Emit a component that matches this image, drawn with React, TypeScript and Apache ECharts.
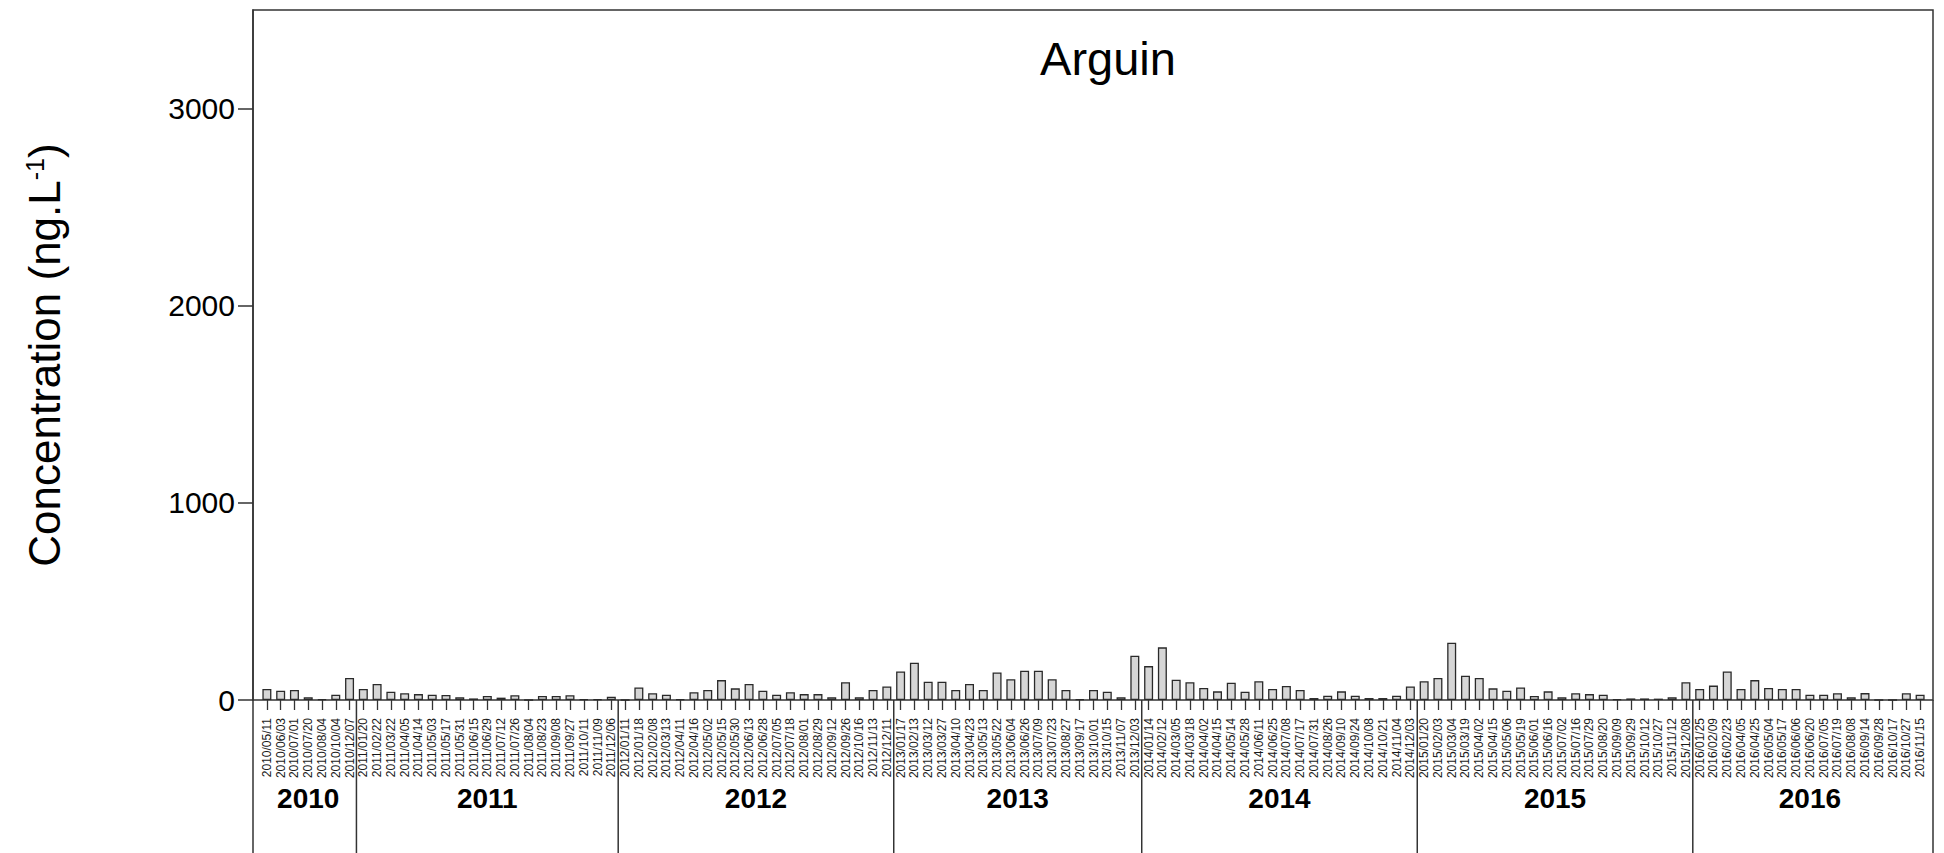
import React, { useEffect, useRef } from 'react';
import * as echarts from 'echarts';

const chartTitle = 'Arguin';
const yName = 'Concentration (ng.L{sup|-1})';
const yTicks = [0, 1000, 2000, 3000];
const yMax = 3500;

const dates2010 = ['2010/05/11','2010/06/03','2010/07/01','2010/07/20','2010/08/04','2010/10/04','2010/12/07'];
const dates2011 = ['2011/01/20','2011/02/22','2011/03/22','2011/04/05','2011/04/14','2011/05/03','2011/05/17','2011/05/31','2011/06/15','2011/06/29','2011/07/12','2011/07/26','2011/08/04','2011/08/23','2011/09/08','2011/09/27','2011/10/11','2011/11/09','2011/12/06'];
const dates2012 = ['2012/01/11','2012/01/18','2012/02/08','2012/03/13','2012/04/11','2012/04/16','2012/05/02','2012/05/15','2012/05/30','2012/06/13','2012/06/28','2012/07/05','2012/07/18','2012/08/01','2012/08/29','2012/09/12','2012/09/26','2012/10/16','2012/11/13','2012/12/11'];
const dates2013 = ['2013/01/17','2013/02/13','2013/03/12','2013/03/27','2013/04/10','2013/04/23','2013/05/13','2013/05/22','2013/06/04','2013/06/26','2013/07/09','2013/07/23','2013/08/27','2013/09/17','2013/10/01','2013/10/15','2013/11/07','2013/12/03'];
const dates2014 = ['2014/01/14','2014/02/12','2014/03/05','2014/03/18','2014/04/02','2014/04/15','2014/05/14','2014/05/28','2014/06/11','2014/06/25','2014/07/08','2014/07/17','2014/07/31','2014/08/26','2014/09/10','2014/09/24','2014/10/08','2014/10/21','2014/11/04','2014/12/03'];
const dates2015 = ['2015/01/20','2015/02/03','2015/03/04','2015/03/19','2015/04/02','2015/04/15','2015/05/06','2015/05/19','2015/06/01','2015/06/16','2015/07/02','2015/07/16','2015/07/29','2015/08/20','2015/09/09','2015/09/29','2015/10/12','2015/10/27','2015/11/12','2015/12/08'];
const dates2016 = ['2016/01/25','2016/02/09','2016/02/23','2016/04/05','2016/04/25','2016/05/04','2016/05/17','2016/06/06','2016/06/20','2016/07/05','2016/07/19','2016/08/08','2016/09/14','2016/09/28','2016/10/17','2016/10/27','2016/11/15'];

const values2010 = [56, 47, 51, 14, 3, 27, 112];
const values2011 = [56, 81, 42, 34, 30, 27, 25, 14, 8, 20, 12, 24, 0, 20, 20, 24, 3, 3, 17];
const values2012 = [0, 64, 34, 27, 3, 39, 51, 101, 59, 81, 47, 27, 39, 30, 30, 14, 90, 14, 51, 69];
const values2013 = [145, 189, 93, 93, 51, 81, 51, 140, 105, 149, 149, 105, 51, 3, 51, 42, 14, 225];
const values2014 = [172, 267, 103, 90, 61, 44, 88, 42, 95, 56, 71, 51, 10, 22, 44, 22, 10, 10, 22, 69];
const values2015 = [95, 112, 291, 123, 112, 59, 47, 64, 20, 44, 14, 34, 30, 27, 3, 8, 8, 7, 14, 90];
const values2016 = [56, 73, 145, 56, 101, 61, 56, 56, 27, 27, 34, 14, 35, 0, 0, 34, 27];

const dates = [...dates2010, ...dates2011, ...dates2012, ...dates2013, ...dates2014, ...dates2015, ...dates2016];
const values = [...values2010, ...values2011, ...values2012, ...values2013, ...values2014, ...values2015, ...values2016];

const W = 1944;
const H = 853;
const LINE = '#333333';
const FONT = 'Liberation Sans, Arial, sans-serif';

export default function App() {
  const ref = useRef<HTMLDivElement>(null);

  useEffect(() => {
    document.body.style.margin = '0';
    const chart = echarts.init(ref.current as HTMLDivElement, null, { renderer: 'svg' });
    const option: any = {
      animation: false,
      backgroundColor: '#ffffff',
      title: {
        text: chartTitle,
        left: 1103,
        top: 30,
        textAlign: 'center',
        textStyle: { fontSize: 47, fontWeight: 'normal', fontFamily: FONT, color: '#000' },
      },
      grid: [
        { left: 253, right: 11, top: 10, bottom: 153, show: true, borderColor: LINE, borderWidth: 1.5, backgroundColor: 'transparent' },
        { left: 260, right: 17, top: 10, bottom: 153 },
      ],
      xAxis: [
        { gridIndex: 0, type: 'value', show: false, min: 0, max: 1 },
        {
          gridIndex: 1,
          type: 'category',
          data: dates,
          boundaryGap: true,
          axisLine: { show: false },
          axisTick: { show: true, alignWithLabel: true, interval: 0, length: 10, lineStyle: { color: LINE, width: 1.3 } },
          axisLabel: { interval: 0, rotate: 90, fontSize: 12, margin: 18, fontFamily: FONT, color: '#1a1a1a' },
          splitLine: { show: false },
        },
      ],
      yAxis: [
        {
          gridIndex: 0,
          type: 'value',
          min: 0,
          max: yMax,
          interval: 1000,
          name: yName,
          nameLocation: 'middle',
          nameRotate: 90,
          nameGap: 186,
          nameTextStyle: {
            fontSize: 44,
            fontFamily: FONT,
            color: '#000',
            rich: {
              sup: { fontSize: 25, fontFamily: FONT, color: '#000', verticalAlign: 'top', padding: [0, 0, 20, 0] },
            },
          },
          axisLine: { show: true, lineStyle: { color: LINE, width: 1.5 } },
          axisTick: { show: true, length: 15, customValues: yTicks, lineStyle: { color: LINE, width: 1.5 } },
          axisLabel: {
            fontSize: 30,
            margin: 18,
            fontFamily: FONT,
            color: '#000',
            customValues: yTicks,
            formatter: (v: number) => String(v),
          },
          splitLine: { show: false },
        },
        { gridIndex: 1, type: 'value', min: 0, max: yMax, show: false },
      ],
      series: [
        {
          type: 'bar',
          xAxisIndex: 1,
          yAxisIndex: 1,
          data: values,
          barWidth: 9,
          itemStyle: { color: '#d6d6d6', borderColor: '#2a2a2a', borderWidth: 1.3 },
        },
      ],
    };
    chart.setOption(option);

    // Year separators and year labels, positioned through the library's own scales
    const px = (i: number) => chart.convertToPixel({ xAxisIndex: 1 }, i) as number;
    const y0 = chart.convertToPixel({ yAxisIndex: 0 }, 0) as number;
    const boxL = chart.convertToPixel({ xAxisIndex: 0 }, 0) as number;
    const boxR = chart.convertToPixel({ xAxisIndex: 0 }, 1) as number;
    const band = px(1) - px(0);
    const groups: { year: string; first: number; last: number }[] = [];
    dates.forEach((d, i) => {
      const y = d.slice(0, 4);
      const g = groups[groups.length - 1];
      if (g && g.year === y) g.last = i;
      else groups.push({ year: y, first: i, last: i });
    });
    const graphics: any[] = [];
    const lineStyle = { stroke: LINE, lineWidth: 1.5 };
    graphics.push({ type: 'line', shape: { x1: boxL, y1: y0, x2: boxL, y2: H + 5 }, style: lineStyle });
    graphics.push({ type: 'line', shape: { x1: boxR, y1: y0, x2: boxR, y2: H + 5 }, style: lineStyle });
    groups.forEach((g, k) => {
      const left = g.first === 0 ? px(0) - band / 2 : (px(g.first - 1) + px(g.first)) / 2;
      const right = g.last === dates.length - 1 ? px(g.last) + band / 2 : (px(g.last) + px(g.last + 1)) / 2;
      if (k > 0) {
        graphics.push({ type: 'line', shape: { x1: left, y1: y0, x2: left, y2: H + 5 }, style: lineStyle });
      }
      graphics.push({
        type: 'text',
        x: (left + right) / 2,
        y: y0 + 98,
        style: {
          text: g.year,
          fontSize: 28,
          fontWeight: 'bold',
          fontFamily: FONT,
          fill: '#000',
          align: 'center',
          verticalAlign: 'middle',
        },
      });
    });
    chart.setOption({ graphic: graphics });

    return () => chart.dispose();
  }, []);

  return <div ref={ref} style={{ width: W, height: H, position: 'absolute', left: 0, top: 0 }} />;
}
